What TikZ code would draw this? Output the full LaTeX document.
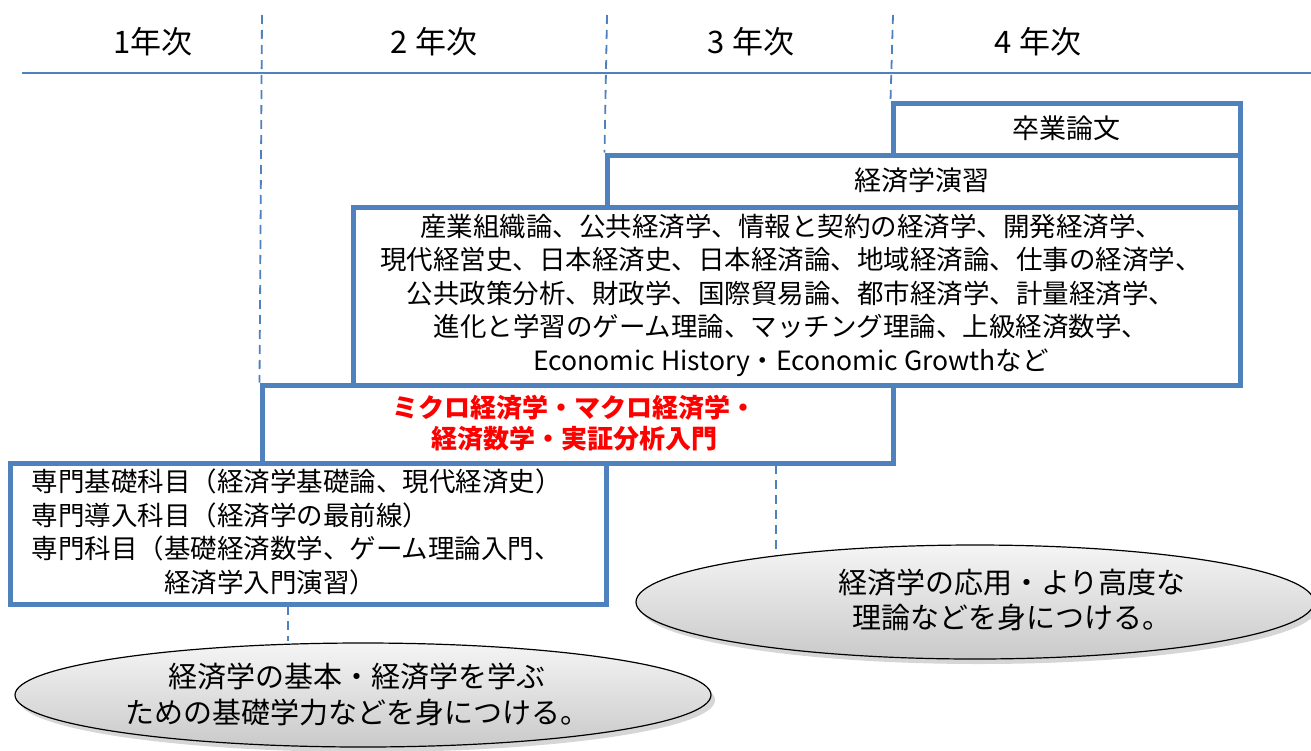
\documentclass[tikz,border=0pt]{standalone}
\usepackage{fontspec}
\setmainfont{Noto Sans CJK JP}
\definecolor{frameblue}{HTML}{4F81BD}
\definecolor{redtxt}{HTML}{FF0000}
\tikzset{
  yearlbl/.style={font=\fontsize{31}{34}\selectfont, anchor=center},
  blockbox/.style={draw=frameblue, line width=5pt, fill=white, rectangle, inner sep=0pt, anchor=center},
  divline/.style={draw=frameblue, line width=1.8pt, dash pattern=on 9pt off 6pt},
  goal/.style={ellipse, draw=black, line width=1.2pt, top color=gray!8, bottom color=gray!42, inner sep=0pt},
  shadowell/.style={fill=black!35, opacity=0.45},
  bodytxt/.style={font=\fontsize{26.5}{33.5}\selectfont}
}
\usetikzlibrary{shapes.geometric}
\begin{document}
\begin{tikzpicture}[x=1pt,y=-1pt]
\useasboundingbox (0,0) rectangle (1311,750);
\fill[white] (0,0) rectangle (1311,750);
% year labels
\node[yearlbl] (y1) at (153,42) {1年次};
\node[yearlbl] (y2) at (434,42) {2 年次};
\node[yearlbl] (y3) at (751,42) {3 年次};
\node[yearlbl] (y4) at (1038,42) {4 年次};
% timeline
\coordinate (tlA) at (22,73);
\coordinate (tlB) at (1311,73);
\draw[frameblue, line width=2pt] (tlA) -- (tlB);
% boxes
\node[blockbox, minimum width=887pt, minimum height=178pt] (adv) at (796.5,296) {};
\node[blockbox, minimum width=633pt, minimum height=52pt] (sem) at (923.5,181) {};
\node[blockbox, minimum width=347pt, minimum height=52pt] (thesis) at (1066.5,129) {};
\node[blockbox, minimum width=631pt, minimum height=78pt] (core) at (577.5,424) {};
\node[blockbox, minimum width=596pt, minimum height=141pt] (intro) at (308,533.5) {};
% texts
\node[font=\fontsize{27}{30}\selectfont] (thesisT) at (1066,128) {卒業論文};
\node[font=\fontsize{27}{30}\selectfont] (semT) at (922,180) {経済学演習};
\node[bodytxt, align=center] (advT) at (791,295) {産業組織論、公共経済学、情報と契約の経済学、開発経済学、\\現代経営史、日本経済史、日本経済論、地域経済論、仕事の経済学、\\公共政策分析、財政学、国際貿易論、都市経済学、計量経済学、\\進化と学習のゲーム理論、マッチング理論、上級経済数学、\\Economic History・Economic Growthなど};
\node[font=\fontsize{26}{31}\bfseries\selectfont, text=redtxt, align=center] (coreT) at (574,423) {ミクロ経済学・マクロ経済学・\\経済数学・実証分析入門};
\node[bodytxt, align=left, anchor=west] (introT) at (28,532) {専門基礎科目（経済学基礎論、現代経済史）\\専門導入科目（経済学の最前線）\\専門科目（基礎経済数学、ゲーム理論入門、\\\hphantom{専門科目（}経済学入門演習）};
% dashed dividers
\coordinate (d1) at (262,15);
\coordinate (d2) at (607,15);
\coordinate (d3) at (893,15);
\draw[divline] (d1) -- (core.north west);
\draw[divline] (d2) -- (sem.north west);
\draw[divline] (d3) -- (thesis.north west);
\coordinate (c1) at (776,465);
\coordinate (c2) at (776,556);
\draw[divline] (c1) -- (c2);
\coordinate (e1) at (288,606);
\coordinate (e2) at (288,641);
\draw[divline] (e1) -- (e2);
% goal ellipses
\fill[shadowell] (979,607) ellipse [x radius=339pt, y radius=57pt];
\node[goal, minimum width=678pt, minimum height=114pt] (goalR) at (975,602) {};
\node[font=\fontsize{29}{35}\selectfont, align=center] (goalRT) at (1012,600) {経済学の応用・より高度な\\理論などを身につける。};
\fill[shadowell] (367,700) ellipse [x radius=348pt, y radius=52pt];
\node[goal, minimum width=696pt, minimum height=104pt] (goalL) at (363,695) {};
\node[font=\fontsize{29}{36}\selectfont, align=center] (goalLT) at (357,694) {経済学の基本・経済学を学ぶ\\ための基礎学力などを身につける。};
\end{tikzpicture}
\end{document}
